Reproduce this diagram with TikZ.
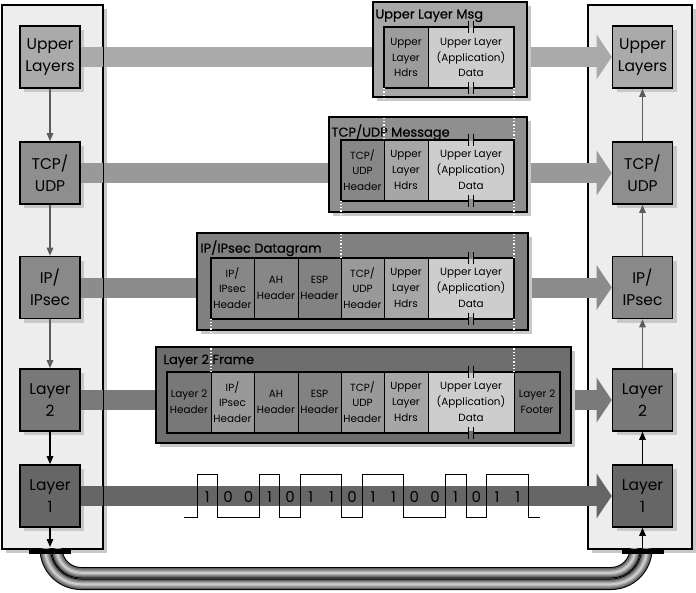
\documentclass[tikz,border=0pt]{standalone}
\usepackage{fontspec}
\setmainfont{Poppins}
\newfontfamily\titlefont[FakeBold=0.4]{Poppins}
\usetikzlibrary{arrows.meta,positioning,shadows,calc}

\definecolor{panelgray}{HTML}{EDEDED}
\definecolor{shadegray}{HTML}{C8C8C8}
\definecolor{upcol}{HTML}{AAAAAA}
\definecolor{tcpcol}{HTML}{8E8E8E}
\definecolor{ipcol}{HTML}{898989}
\definecolor{ltwocol}{HTML}{787878}
\definecolor{lonecol}{HTML}{666666}
\definecolor{datacol}{HTML}{CDCDCD}
\definecolor{hdrcol}{HTML}{A6A6A6}
\definecolor{arrowgray}{HTML}{5C5C5C}

% break mark on the data cell border
\newcommand{\databreak}[2]{%
  \fill[#2] ($(#1)+(-1.8,-1.4)$) rectangle ($(#1)+(1.8,1.4)$);
  \draw[line width=1.1pt] ($(#1)+(-2.4,-6)$) -- ++(0,12) ($(#1)+(2.4,-6)$) -- ++(0,12);}

\tikzset{
  shade/.style={drop shadow={shadow xshift=4pt,shadow yshift=-4pt,fill=shadegray,opacity=1}},
  panel/.style={draw,line width=1.2pt,fill=panelgray,minimum height=544pt,inner sep=0pt,shade},
  layerbox/.style={draw,line width=1.6pt,minimum width=60pt,minimum height=62pt,inner sep=0pt,align=center,font=\fontsize{15.5}{22}\selectfont,shade},
  bar/.style={line width=20pt,-{Triangle[width=44pt,length=15pt]}},
  stackarr/.style={line width=1.3pt,-{Triangle[width=6.5pt,length=8pt]}},
  pktbox/.style={draw,line width=1.5pt,inner sep=0pt,shade},
  pkttitle/.style={inner sep=0pt,anchor=north west,font=\titlefont\fontsize{13}{15}\selectfont},
  cell/.style={draw,line width=1pt,minimum height=61pt,inner sep=0pt,outer sep=0pt,align=center,font=\fontsize{10.4}{15.8}\selectfont},
  inbox/.style={draw,line width=2pt},
  wdot/.style={draw=white,line width=1.3pt,dash pattern=on 1.3pt off 2pt},
  wave/.style={draw=black,line width=1pt},
  bit/.style={inner sep=0pt,font=\fontsize{15}{15}\selectfont},
  plug/.style={fill=black,minimum width=42pt,minimum height=5pt,inner sep=0pt},
  cable/.style={preaction={draw=black,line width=11.5pt},preaction={draw=black!62,line width=9.5pt},
    preaction={draw=black!48,line width=7pt},preaction={draw=black!34,line width=4.5pt},draw=black!20,line width=2pt}
}

\begin{document}
\begin{tikzpicture}[x=1pt,y=-1pt]
  \useasboundingbox (0,0) rectangle (696,592);

  % side panels
  \node[panel,minimum width=101pt] (lpanel) at (52.5,277) {};
  \node[panel,minimum width=104pt] (rpanel) at (640,277) {};

  % layer stacks
  \node[layerbox,fill=upcol] (lup) at (50,57) {Upper\\Layers};
  \node[layerbox,fill=tcpcol] (ltcp) at (50,173) {TCP/\\UDP};
  \node[layerbox,fill=ipcol] (lip) at (50,287.5) {IP/\\IPsec};
  \node[layerbox,fill=ltwocol] (ltwo) at (50,400) {Layer\\2};
  \node[layerbox,fill=lonecol] (lone) at (50,496) {Layer\\1};

  \node[layerbox,fill=upcol] (rup) at (642.5,57) {Upper\\Layers};
  \node[layerbox,fill=tcpcol] (rtcp) at (642.5,173) {TCP/\\UDP};
  \node[layerbox,fill=ipcol] (rip) at (642.5,287.5) {IP/\\IPsec};
  \node[layerbox,fill=ltwocol] (rtwo) at (642.5,400) {Layer\\2};
  \node[layerbox,fill=lonecol] (rone) at (642.5,496) {Layer\\1};

  % wide bars
  \draw[bar,color=upcol] (lup) -- (rup);
  \draw[bar,color=black!40] (ltcp) -- (rtcp);
  \draw[bar,color=black!45] (lip) -- (rip);
  \draw[bar,color=black!52] (ltwo) -- (rtwo);
  \draw[bar,color=lonecol] (lone) -- (rone);
  \draw[line width=1.2pt] (lpanel.north east) -- (lpanel.south east);

  % Upper Layer Msg
  \node[pktbox,fill=black!34,minimum width=154pt,minimum height=95pt] (umsg) at (450,49.5) {};
  \node[pkttitle,below right=8pt and 3pt of umsg.north west] (umsgt) {Upper Layer Msg};
  \node[cell,fill=black!39,minimum width=44pt] (umh) at (406,57.5) {Upper\\Layer\\Hdrs};
  \node[cell,fill=datacol,minimum width=86pt,right=0pt of umh] (umd) {Upper Layer\\(Application)\\Data};
  \draw[inbox] (umh.north west) rectangle (umd.south east);

  % TCP/UDP Message
  \node[pktbox,fill=black!44,minimum width=198pt,minimum height=95pt] (tmsg) at (428,164.5) {};
  \node[pkttitle,below right=8pt and 3pt of tmsg.north west] (tmsgt) {TCP/UDP Message};
  \node[cell,fill=black!47,minimum width=43pt] (tmt) at (362.5,170) {TCP/\\UDP\\Header};
  \node[cell,fill=hdrcol,minimum width=44pt,right=0pt of tmt] (tmh) {Upper\\Layer\\Hdrs};
  \node[cell,fill=datacol,minimum width=86pt,right=0pt of tmh] (tmd) {Upper Layer\\(Application)\\Data};
  \draw[inbox] (tmt.north west) rectangle (tmd.south east);

  % IP/IPsec Datagram
  \node[pktbox,fill=black!50,minimum width=331pt,minimum height=97pt] (ipdg) at (362.5,281.5) {};
  \node[pkttitle,below right=8pt and 4pt of ipdg.north west] (ipdgt) {IP/IPsec Datagram};
  \node[cell,fill=black!47,minimum width=43pt] (ipi) at (232.5,288) {IP/\\IPsec\\Header};
  \node[cell,fill=black!47,minimum width=44pt,right=0pt of ipi] (ipa) {AH\\Header};
  \node[cell,fill=black!49,minimum width=43pt,right=0pt of ipa] (ipe) {ESP\\Header};
  \node[cell,fill=black!40,minimum width=43pt,right=0pt of ipe] (ipt) {TCP/\\UDP\\Header};
  \node[cell,fill=hdrcol,minimum width=44pt,right=0pt of ipt] (iph) {Upper\\Layer\\Hdrs};
  \node[cell,fill=datacol,minimum width=86pt,right=0pt of iph] (ipd) {Upper Layer\\(Application)\\Data};
  \draw[inbox] (ipi.north west) rectangle (ipd.south east);

  % Layer 2 Frame
  \node[pktbox,fill=black!57,minimum width=415pt,minimum height=96pt] (lfr) at (363.5,395) {};
  \node[pkttitle,below right=8pt and 8pt of lfr.north west] (lfrt) {Layer 2 Frame};
  \node[cell,fill=ltwocol,minimum width=44pt] (lfl) at (189,402) {Layer 2\\Header};
  \node[cell,fill=black!40,minimum width=43pt,right=0pt of lfl] (lfi) {IP/\\IPsec\\Header};
  \node[cell,fill=black!47,minimum width=44pt,right=0pt of lfi] (lfa) {AH\\Header};
  \node[cell,fill=black!49,minimum width=43pt,right=0pt of lfa] (lfe) {ESP\\Header};
  \node[cell,fill=black!40,minimum width=43pt,right=0pt of lfe] (lft) {TCP/\\UDP\\Header};
  \node[cell,fill=hdrcol,minimum width=44pt,right=0pt of lft] (lfh) {Upper\\Layer\\Hdrs};
  \node[cell,fill=datacol,minimum width=86pt,right=0pt of lfh] (lfd) {Upper Layer\\(Application)\\Data};
  \node[cell,fill=ltwocol,minimum width=46pt,right=0pt of lfd] (lff) {Layer 2\\Footer};
  \draw[inbox] (lfl.north west) rectangle (lff.south east);

  % breaks in the data
  \databreak{umd.north}{black!34}
  \databreak{umd.south}{black!34}
  \databreak{tmd.north}{black!44}
  \databreak{tmd.south}{black!44}
  \databreak{ipd.north}{black!50}
  \databreak{ipd.south}{black!50}
  \databreak{lfd.north}{black!57}
  \databreak{lfd.south}{black!57}

  % encapsulation guides
  \draw[wdot] (umh.south west) -- (tmh.north west);
  \draw[wdot] (umd.south east) -- (tmd.north east);
  \draw[wdot] (tmt.south west) -- (ipt.north west);
  \draw[wdot] (tmd.south east) -- (ipd.north east);
  \draw[wdot] (ipi.south west) -- (lfi.north west);
  \draw[wdot] (ipd.south east) -- (lfd.north east);

  % bit stream
  \draw[wave] (184,517) -| (197,474) -| (217.7,517) -| (259.1,474) -| (279.8,517) -| (300.4,474)
    -| (341.8,517) -| (362.5,474) -| (403.9,517) -| (445.3,474) -| (466,517) -| (486.7,474)
    -| (528,517) -- (540,517);
  \node[bit] (bit1) at (207.3,497) {1};
  \node[bit] (bit2) at (228,497) {0};
  \node[bit] (bit3) at (248.7,497) {0};
  \node[bit] (bit4) at (269.4,497) {1};
  \node[bit] (bit5) at (290.1,497) {0};
  \node[bit] (bit6) at (310.8,497) {1};
  \node[bit] (bit7) at (331.5,497) {1};
  \node[bit] (bit8) at (352.2,497) {0};
  \node[bit] (bit9) at (372.9,497) {1};
  \node[bit] (bit10) at (393.6,497) {1};
  \node[bit] (bit11) at (414.3,497) {0};
  \node[bit] (bit12) at (435,497) {0};
  \node[bit] (bit13) at (455.6,497) {1};
  \node[bit] (bit14) at (476.3,497) {0};
  \node[bit] (bit15) at (497,497) {1};
  \node[bit] (bit16) at (517.7,497) {1};

  % cable
  \path[cable] (56.75,548.5) .. controls (56.75,561.89) and (67.61,572.75) .. (81,572.75) -- (611,572.75)
    .. controls (624.39,572.75) and (635.25,561.89) .. (635.25,548.5);
  \path[cable] (45.25,548.5) .. controls (45.25,568.24) and (61.26,584.25) .. (81,584.25) -- (611,584.25)
    .. controls (630.74,584.25) and (646.75,568.24) .. (646.75,548.5);
  \node[plug] (lplug) at (50,551.5) {};
  \node[plug] (rplug) at (642.5,551.5) {};

  % layer to layer
  \coordinate (lend) at (50,547);
  \coordinate (rend) at (642.5,548);
  \draw[stackarr,color=arrowgray] (lup) -- (ltcp);
  \draw[stackarr,color=arrowgray] (ltcp) -- (lip);
  \draw[stackarr,color=arrowgray] (lip) -- (ltwo);
  \draw[stackarr] (ltwo) -- (lone);
  \draw[stackarr] (lone) -- (lend);
  \draw[stackarr] (rend) -- (rone);
  \draw[stackarr] (rone) -- (rtwo);
  \draw[stackarr,color=arrowgray] (rtwo) -- (rip);
  \draw[stackarr,color=arrowgray] (rip) -- (rtcp);
  \draw[stackarr,color=arrowgray] (rtcp) -- (rup);
\end{tikzpicture}
\end{document}
